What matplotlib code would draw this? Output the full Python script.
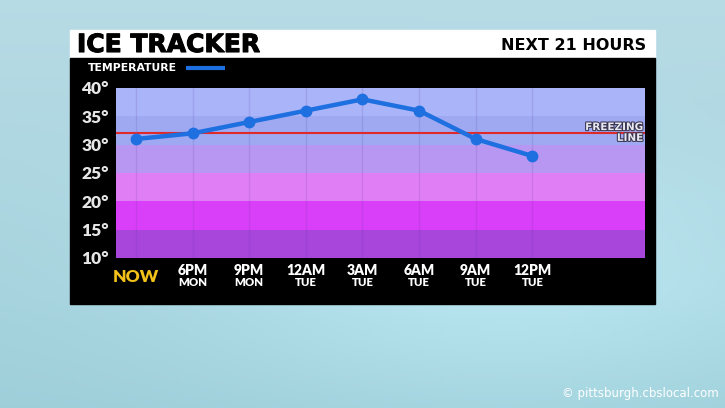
import numpy as np
import matplotlib
matplotlib.use('Agg')
import matplotlib.pyplot as plt
import matplotlib.patheffects as pe
from matplotlib.patches import Rectangle
from matplotlib.transforms import blended_transform_factory

# data
hours = ["NOW", "6PM", "9PM", "12AM", "3AM", "6AM", "9AM", "12PM"]
days = ["", "MON", "MON", "TUE", "TUE", "TUE", "TUE", "TUE"]
temps = [31, 32, 34, 36, 38, 36, 31, 28]
freezing = 32
yticks = [10, 15, 20, 25, 30, 35, 40]
band_lo = [35, 30, 25, 20, 15, 10]
band_colors = ['#aab4f9', '#9ea9f2', '#b897f3', '#e07ef5', '#d93ff8', '#a845db']

W, H = 725, 408
FONT = 'Lato'
HEAD = 'DejaVu Sans'
fig = plt.figure(figsize=(W / 100, H / 100), dpi=100)

# backdrop in pixel coords
bg = fig.add_axes([0, 0, 1, 1])
bg.set_xlim(0, W); bg.set_ylim(H, 0); bg.axis('off')
yy, xx = np.mgrid[0:1:100j, 0:1:180j]
top = np.array([0.72, 0.86, 0.90]); bot = np.array([0.62, 0.81, 0.85])
glow = np.exp(-((xx - 0.7) ** 2 / 0.2 + (yy - 0.7) ** 2 / 0.1))[..., None]
img = top * (1 - yy[..., None]) + bot * yy[..., None]
img = np.clip(img + 0.07 * glow, 0, 1)
bg.imshow(img, extent=[0, W, H, 0], aspect='auto', zorder=0)

# panel
bg.add_patch(Rectangle((70, 30), 585, 28, color='white', zorder=1))
bg.add_patch(Rectangle((70, 58), 585, 246, color='black', zorder=1))
bg.text(77, 45, "ICE TRACKER", fontsize=18, fontweight='bold', family=HEAD,
        color='black', va='center', ha='left', zorder=2,
        path_effects=[pe.withStroke(linewidth=0.8, foreground='black')])
bg.text(646, 46, "NEXT 21 HOURS", fontsize=11.5, fontweight='bold', family=HEAD,
        color='black', va='center', ha='right', zorder=2)
bg.text(88, 68, "TEMPERATURE", fontsize=7.8, fontweight='bold', family=HEAD,
        color='white', va='center', ha='left', zorder=2)
bg.plot([186, 225], [68, 68], color='#1e6fe0', lw=3, solid_capstyle='butt', zorder=2)
bg.text(719, 393, "© pittsburgh.cbslocal.com", fontsize=8.5, color='white',
        va='center', ha='right', zorder=2)

# chart
ax = fig.add_axes([116 / W, 1 - 258 / H, 529 / W, 170 / H])
x = np.arange(len(temps))
for lo, c in zip(band_lo, band_colors):
    ax.axhspan(lo, lo + 5, color=c, lw=0, zorder=0)
for xi in x:
    ax.axvline(xi, color='#5a3a9a', alpha=0.15, lw=1, zorder=1)
ax.axhline(freezing, color='#e02a2a', lw=1.5, zorder=2)
ax.plot(x, temps, color='#1e6fe0', lw=3.2, marker='o', ms=7.5, zorder=3)
ax.set_xlim(-0.353, 8.99)
ax.set_ylim(10, 40)
for s in ax.spines.values():
    s.set_visible(False)

ax.set_xticks([])
ax.set_yticks(yticks)
ax.set_yticklabels([f"{t}°" for t in yticks], fontsize=12.5, fontweight='heavy',
                   family=FONT, color='#e6e6e6')
ax.tick_params(axis='y', length=0, pad=5)

stroke = [pe.withStroke(linewidth=1.5, foreground='#3a3550')]
ax.text(8.96, 33.1, "FREEZING", fontsize=7.5, fontweight='bold', family=HEAD,
        color='#e8e8f0', ha='right', va='center', path_effects=stroke, zorder=4)
ax.text(8.96, 31.2, "LINE", fontsize=7.5, fontweight='bold', family=HEAD,
        color='#e8e8f0', ha='right', va='center', path_effects=stroke, zorder=4)

tr = blended_transform_factory(ax.transData, ax.transAxes)
for xi, hlab, dlab in zip(x, hours, days):
    if hlab == "NOW":
        ax.text(xi, -0.11, hlab, transform=tr, fontsize=12.5, fontweight='heavy',
                family=FONT, color='#f2c21b', ha='center', va='center')
    else:
        ax.text(xi, -0.075, hlab, transform=tr, fontsize=10, fontweight='heavy',
                family=FONT, color='white', ha='center', va='center')
        ax.text(xi, -0.147, dlab, transform=tr, fontsize=8.2, fontweight='heavy',
                family=FONT, color='white', ha='center', va='center')

plt.savefig("out.png", dpi=100)
